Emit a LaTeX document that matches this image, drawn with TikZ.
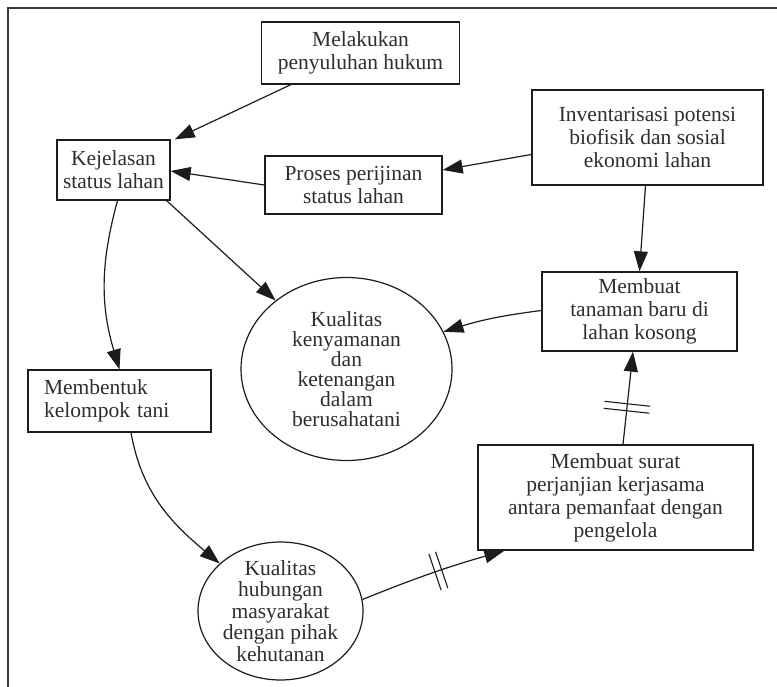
\documentclass[tikz,border=0pt]{standalone}
\usepackage{fontspec}
\setmainfont{Liberation Serif}
\usetikzlibrary{arrows.meta,shapes.geometric,decorations.markings}
\definecolor{ink}{HTML}{2E2E2E}
\definecolor{edgecol}{HTML}{1C1C1C}
\definecolor{framecol}{HTML}{3A3A3A}
\begin{document}
\begin{tikzpicture}[x=1pt,y=1pt,
  every node/.style={font=\fontsize{21.5}{23}\selectfont, text=ink},
  box/.style={draw=edgecol, line width=1.3pt, rectangle, align=center, inner sep=0pt},
  oval/.style={draw=edgecol, line width=1.2pt, ellipse, align=center, inner sep=-10pt},
  conn/.style={draw=edgecol, line width=1.2pt, -{Triangle[length=20pt,width=14pt]}},
  ticks/.style 2 args={postaction={decorate},
    decoration={markings, mark=at position #1 with {
      \draw[-, edgecol, line width=1.1pt] (-3.5,-#2) -- (-3.5,#2) (3.5,-#2) -- (3.5,#2);}}}
]
\useasboundingbox (0,0) rectangle (777,-687);

% open frame: top and left sides only
\draw[framecol, line width=1.6pt] (8,-687) -- (8,-8) -- (777,-8);

% boxes
\node[box, minimum width=198, minimum height=62] (mel) at (360.5,-53) {Melakukan\\penyuluhan hukum};
\node[box, minimum width=113, minimum height=60] (kej) at (113.5,-170) {Kejelasan\\status lahan};
\node[box, minimum width=177, minimum height=58] (pro) at (353.5,-185) {Proses perijinan\\status lahan};
\node[box, minimum width=231, minimum height=95] (inv) at (647.5,-137.5) {Inventarisasi potensi\\biofisik dan sosial\\ekonomi lahan};
\node[box, minimum width=195, minimum height=79] (tan) at (639.5,-311.5) {Membuat\\tanaman baru di\\lahan kosong};
\node[box, align=left, text width=151pt, inner xsep=16pt, inner ysep=0pt, minimum height=62] (mbk) at (119.5,-401) {Membentuk\\kelompok tani};
\node[box, minimum width=275, minimum height=105] (sur) at (615.5,-497.5) {Membuat surat\\perjanjian kerjasama\\antara pemanfaat dengan\\pengelola};

% ellipses
\node[oval, minimum width=211, minimum height=183, font=\fontsize{21.5}{20}\selectfont] (kn) at (346.5,-369)
  {Kualitas\\kenyamanan\\dan\\ketenangan\\dalam\\berusahatani};
\node[oval, minimum width=165, minimum height=138, font=\fontsize{21.5}{21.5}\selectfont] (hub) at (280.5,-611)
  {Kualitas\\hubungan\\masyarakat\\dengan pihak\\kehutanan};

% connectors
\draw[conn] ([xshift=30pt]mel.south west) -- ([xshift=4pt]kej.north east);
\draw[conn] (pro.west) -- ([yshift=-1pt]kej.east);
\draw[conn] ([yshift=-17pt]inv.west) -- ([yshift=15pt]pro.east);
\draw[conn] ([xshift=-2pt]inv.south) -- (tan.north);
\draw[conn] ([yshift=1pt]tan.west) to[bend right=5] (kn.21);
\draw[conn] ([xshift=-4pt]kej.south east) -- (kn.136);
\draw[conn] ([xshift=4pt]kej.south) to[bend right=16] (mbk.north);
\draw[conn] ([xshift=11.5pt]mbk.south) to[out=-80,in=140] (hub.142);
\draw[conn, ticks={0.54}{19}] (hub.8) to[bend left=3] ([xshift=27pt]sur.south west);
\draw[conn, ticks={0.4}{23}] ([xshift=7.5pt]sur.north) -- ([xshift=-6.5pt]tan.south);
\end{tikzpicture}
\end{document}
